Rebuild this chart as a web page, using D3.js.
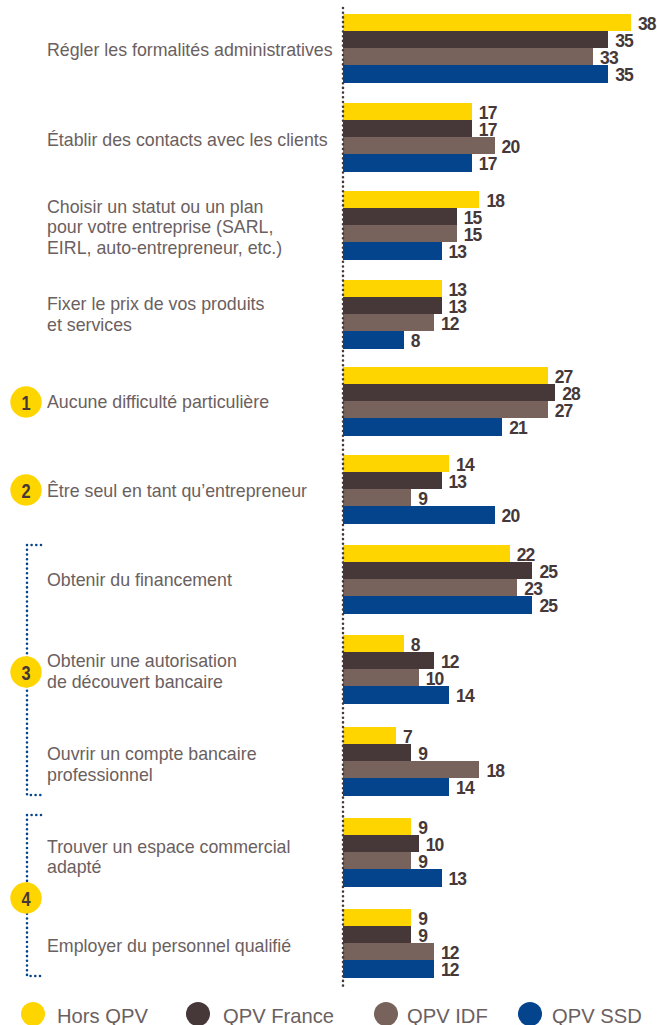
<!DOCTYPE html>
<html>
<head>
<meta charset="utf-8">
<script src="https://cdn.jsdelivr.net/npm/d3@7"></script>
<style>
  body { margin: 0; background: #fff; }
  svg { display: block; }
  text { font-family: "Liberation Sans", Arial, sans-serif; }
</style>
</head>
<body>
<div id="chart"></div>
<script>
var categories = [
  "Régler les formalités administratives",
  "Établir des contacts avec les clients",
  "Choisir un statut ou un plan\npour votre entreprise (SARL,\nEIRL, auto-entrepreneur, etc.)",
  "Fixer le prix de vos produits\net services",
  "Aucune difficulté particulière",
  "Être seul en tant qu’entrepreneur",
  "Obtenir du financement",
  "Obtenir une autorisation\nde découvert bancaire",
  "Ouvrir un compte bancaire\nprofessionnel",
  "Trouver un espace commercial\nadapté",
  "Employer du personnel qualifié"
];
var seriesNames = ["Hors QPV", "QPV France", "QPV IDF", "QPV SSD"];
var horsQpv   = [38, 17, 18, 13, 27, 14, 22, 8, 7, 9, 9];
var qpvFrance = [35, 17, 15, 13, 28, 13, 25, 12, 9, 10, 9];
var qpvIdf    = [33, 20, 15, 12, 27, 9, 23, 10, 18, 9, 12];
var qpvSsd    = [35, 17, 13, 8, 21, 20, 25, 14, 14, 13, 12];
var seriesValues = [horsQpv, qpvFrance, qpvIdf, qpvSsd];
var badges = ["1", "2", "3", "4"];

var colors = d3.scaleOrdinal().domain(seriesNames).range(["#ffd500", "#463838", "#77635b", "#03448c"]);
var textColor = "#6b6060";
var darkColor = "#463838";

var svg = d3.select("#chart").append("svg").attr("width", 657).attr("height", 1025);

/* the rows are not evenly spaced in the picture */
var groupTop = d3.scaleOrdinal().domain(categories)
  .range([14, 103, 191, 280, 367, 455, 545, 635, 727, 818, 909]);
var labelMid = d3.scaleOrdinal().domain(categories)
  .range([50, 140, 227, 314.5, 402, 490.5, 579.5, 671.5, 764.5, 857, 946]);
var x = d3.scaleLinear().domain([0, 38]).range([343, 631]);
var barStep = d3.scaleBand().domain(seriesNames).range([0, 68.5]);

/* bars */
var rows = [];
categories.forEach(function (c, i) {
  seriesNames.forEach(function (s, j) {
    rows.push({ category: c, series: s, value: seriesValues[j][i] });
  });
});

svg.selectAll("rect.bar")
  .data(rows)
  .enter()
  .append("rect")
  .attr("class", "bar")
  .attr("x", x(0))
  .attr("y", function (d) { return groupTop(d.category) + barStep(d.series); })
  .attr("width", function (d) { return x(d.value) - x(0); })
  .attr("height", barStep.bandwidth())
  .attr("shape-rendering", "crispEdges")
  .style("fill", function (d) { return colors(d.series); });

svg.selectAll("text.value")
  .data(rows)
  .enter()
  .append("text")
  .attr("class", "value")
  .attr("x", function (d) { return x(d.value) + 7; })
  .attr("y", function (d) { return groupTop(d.category) + barStep(d.series) + barStep.bandwidth() / 2 + 7; })
  .text(function (d) { return d.value; })
  .style("font-weight", "bold")
  .style("font-size", "17.5px")
  .style("letter-spacing", "-0.9px")
  .style("fill", darkColor);

/* dotted axis */
svg.append("line")
  .attr("x1", 343).attr("x2", 343).attr("y1", 8).attr("y2", 986)
  .style("stroke", darkColor).style("stroke-width", 2.6)
  .style("stroke-dasharray", "0 4.7").style("stroke-linecap", "round");

/* category labels */
svg.selectAll("text.label")
  .data(categories)
  .enter()
  .append("text")
  .attr("class", "label")
  .style("font-size", "17.8px")
  .style("fill", textColor)
  .each(function (d) {
    var lines = d.split("\n");
    var top = labelMid(d) - (lines.length - 1) * 20.5 / 2 + 6;
    d3.select(this).selectAll("tspan")
      .data(lines)
      .enter()
      .append("tspan")
      .attr("x", 47)
      .attr("y", function (l, i) { return top + i * 20.5; })
      .text(function (l) { return l; });
  });

/* dotted brackets */
var bracket = d3.line();
[[545, 795], [815, 976]].forEach(function (b) {
  svg.append("path")
    .attr("d", bracket([[41, b[0]], [27, b[0]], [27, b[1]], [41, b[1]]]))
    .style("fill", "none")
    .style("stroke", "#03448c").style("stroke-width", 2.6)
    .style("stroke-dasharray", "0 4.7").style("stroke-linecap", "round");
});

/* number badges */
var badgeY = d3.scaleOrdinal().domain(badges).range([402, 490, 672, 898]);
var badge = svg.selectAll("g.badge")
  .data(badges)
  .enter()
  .append("g")
  .attr("class", "badge")
  .attr("transform", function (d) { return "translate(26," + badgeY(d) + ")"; });
badge.append("circle").attr("r", 15.7).style("fill", "#ffd500");
badge.append("text")
  .attr("y", 7.5)
  .attr("text-anchor", "middle")
  .attr("transform", "scale(0.78,1)")
  .text(function (d) { return d; })
  .style("font-weight", "bold")
  .style("font-size", "21px")
  .style("fill", darkColor);

/* legend */
var legendDot = d3.scaleOrdinal().domain(seriesNames).range([33, 198, 386, 530]);
var legendText = d3.scaleOrdinal().domain(seriesNames).range([57, 223, 407, 552]);
var legend = svg.selectAll("g.legend")
  .data(seriesNames)
  .enter()
  .append("g")
  .attr("class", "legend");
legend.append("circle")
  .attr("cx", function (d) { return legendDot(d); })
  .attr("cy", 1014)
  .attr("r", 12)
  .style("fill", function (d) { return colors(d); });
legend.append("text")
  .attr("x", function (d) { return legendText(d); })
  .attr("y", 1023)
  .text(function (d) { return d; })
  .style("font-size", "20.2px")
  .style("fill", textColor);
</script>
</body>
</html>
